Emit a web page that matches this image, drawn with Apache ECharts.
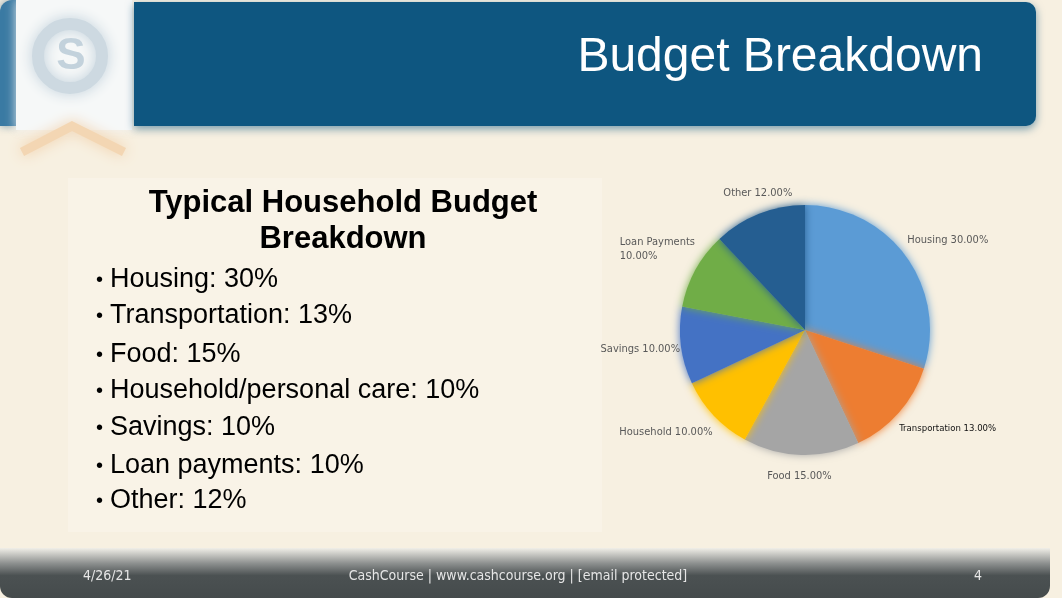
<!DOCTYPE html>
<html>
<head>
<meta charset="utf-8">
<script src="https://cdn.jsdelivr.net/npm/echarts@6/dist/echarts.min.js"></script>
<style>
html,body{margin:0;padding:0;background:#f7f0e1;}
#c{width:1062px;height:598px;}
</style>
</head>
<body>
<div id="c"></div>
<script>
// ---- data ----
const slideTitle = 'Budget Breakdown';
const boxTitle = ['Typical Household Budget', 'Breakdown'];
const categories = ['Housing', 'Transportation', 'Food', 'Household', 'Savings', 'Loan Payments', 'Other'];
const values = [30, 13, 15, 10, 10, 10, 12];
const bulletNames = ['Housing', 'Transportation', 'Food', 'Household/personal care', 'Savings', 'Loan payments', 'Other'];
const sliceColors = ['#5b9bd5', '#ed7d31', '#a5a5a5', '#ffc000', '#4472c4', '#70ad47', '#255e91'];
const footerDate = '4/26/21';
const footerText = 'CashCourse | www.cashcourse.org | [email\u00a0protected]';
const pageNum = '4';

// label nudges (styling only)
const labelNudge = [[-16, -11], [-16, 9], [40, 11], [15, 10], [18, 2], [-58, -16, 'left'], [46, -11]];

const narrow = '"Liberation Sans Narrow", "DejaVu Sans Condensed", "Noto Sans", sans-serif';
const sans = '"Liberation Sans", Arial, sans-serif';

const chart = echarts.init(document.getElementById('c'), null, {renderer: 'canvas'});

const graphics = [];
graphics.push({type: 'rect', shape: {x: 0, y: 0, width: 1062, height: 598}, style: {fill: '#f7f0e1'}, z: -10, silent: true});
graphics.push({type: 'rect', shape: {x: 68, y: 178, width: 534, height: 354}, style: {fill: '#f9f3e7'}, z: -9});
// left blue strip
graphics.push({type: 'rect', shape: {x: 0, y: 0, width: 16, height: 126, r: [12, 0, 0, 0]}, style: {fill: '#3a7aa3', shadowBlur: 8, shadowColor: 'rgba(40,100,140,0.6)'}, z: -8});
// logo white area
graphics.push({type: 'rect', shape: {x: 16, y: 0, width: 116, height: 130}, style: {fill: '#f6f8f8', shadowBlur: 10, shadowColor: 'rgba(240,240,240,0.9)'}, z: -8});
// logo ring (blurred)
graphics.push({type: 'circle', shape: {cx: 70, cy: 56, r: 32}, style: {fill: 'none', stroke: '#cdd9e1', lineWidth: 12, shadowBlur: 14, shadowColor: '#c0d0db'}, z: -7});
graphics.push({type: 'text', style: {x: 71, y: 57, text: 'S', font: 'bold 44px ' + sans, fill: '#c3d2dc', textAlign: 'center', textVerticalAlign: 'middle', shadowBlur: 12, shadowColor: '#bccdd8'}, z: -7});
// orange arch under logo
graphics.push({type: 'polyline', shape: {points: [[22, 152], [72, 126], [124, 152]]}, style: {stroke: '#f3d6b3', lineWidth: 9, shadowBlur: 14, shadowColor: '#f1cfa8'}, z: -7});
// banner
graphics.push({type: 'rect', shape: {x: 134, y: 2, width: 902, height: 124, r: [0, 10, 10, 0]}, style: {fill: '#0e5680', shadowBlur: 8, shadowOffsetY: 3, shadowColor: 'rgba(14,86,128,0.55)'}, z: -6});
graphics.push({type: 'text', style: {x: 983, y: 58, text: slideTitle, font: '48px ' + sans, fill: '#ffffff', textAlign: 'right', textVerticalAlign: 'middle'}, z: 5});
// footer bar
graphics.push({type: 'rect', shape: {x: 0, y: 548, width: 1050, height: 50, r: [0, 0, 12, 12]},
  style: {fill: new echarts.graphic.LinearGradient(0, 0, 0, 1, [
    {offset: 0, color: '#f1efe8'}, {offset: 0.3, color: '#8f9291'}, {offset: 0.55, color: '#4b5152'}, {offset: 1, color: '#454b4c'}])}, z: -6});
graphics.push({type: 'text', style: {x: 83, y: 576, text: footerDate, font: '14px ' + narrow, fill: '#e6e6e6', textAlign: 'left', textVerticalAlign: 'middle'}, z: 5});
graphics.push({type: 'text', style: {x: 518, y: 576, text: footerText, font: '14px ' + narrow, fill: '#e6e6e6', textAlign: 'center', textVerticalAlign: 'middle'}, z: 5});
graphics.push({type: 'text', style: {x: 982, y: 576, text: pageNum, font: '14px ' + narrow, fill: '#e6e6e6', textAlign: 'right', textVerticalAlign: 'middle'}, z: 5});
// box title
boxTitle.forEach((t, i) => {
  graphics.push({type: 'text', style: {x: 343, y: 203 + i * 36, text: t, font: 'bold 31px ' + sans, fill: '#000000', textAlign: 'center', textVerticalAlign: 'middle'}, z: 5});
});
// bullets
const bulletY = [280, 316, 355, 391, 428, 466, 501];
bulletNames.forEach((n, i) => {
  graphics.push({type: 'text', style: {x: 96, y: bulletY[i], text: '\u2022', font: '20px ' + sans, fill: '#000', textAlign: 'left', textVerticalAlign: 'middle'}, z: 5});
  graphics.push({type: 'text', style: {x: 110, y: bulletY[i], text: n + ': ' + values[i] + '%', font: '27px ' + sans, fill: '#000', textAlign: 'left', textVerticalAlign: 'middle'}, z: 5});
});

chart.setOption({
  animation: false,
  backgroundColor: 'transparent',
  graphic: graphics,
  series: [{
    type: 'pie',
    center: [805, 330],
    radius: 125,
    startAngle: 90,
    clockwise: true,
    avoidLabelOverlap: false,
    data: categories.map((c, i) => ({
      name: c, value: values[i],
      itemStyle: {color: sliceColors[i], shadowBlur: 8, shadowColor: sliceColors[i]},
      label: c === 'Transportation' ? {color: '#111111', fontSize: 9.5} : {color: '#595959'}
    })),
    label: {
      show: true,
      position: 'outside',
      fontFamily: narrow,
      fontSize: 11,
      lineHeight: 14,
      formatter: p => (p.name === 'Loan Payments' ? p.name + '\n' : p.name + ' ') + p.value.toFixed(2) + '%'
    },
    labelLine: {show: false, length: 10, length2: 4},
    labelLayout: p => {
      const n = labelNudge[p.dataIndex];
      const r = {dx: n[0], dy: n[1]};
      if (n[2]) r.align = n[2];
      return r;
    },
    emphasis: {disabled: true}
  }]
});
</script>
</body>
</html>
